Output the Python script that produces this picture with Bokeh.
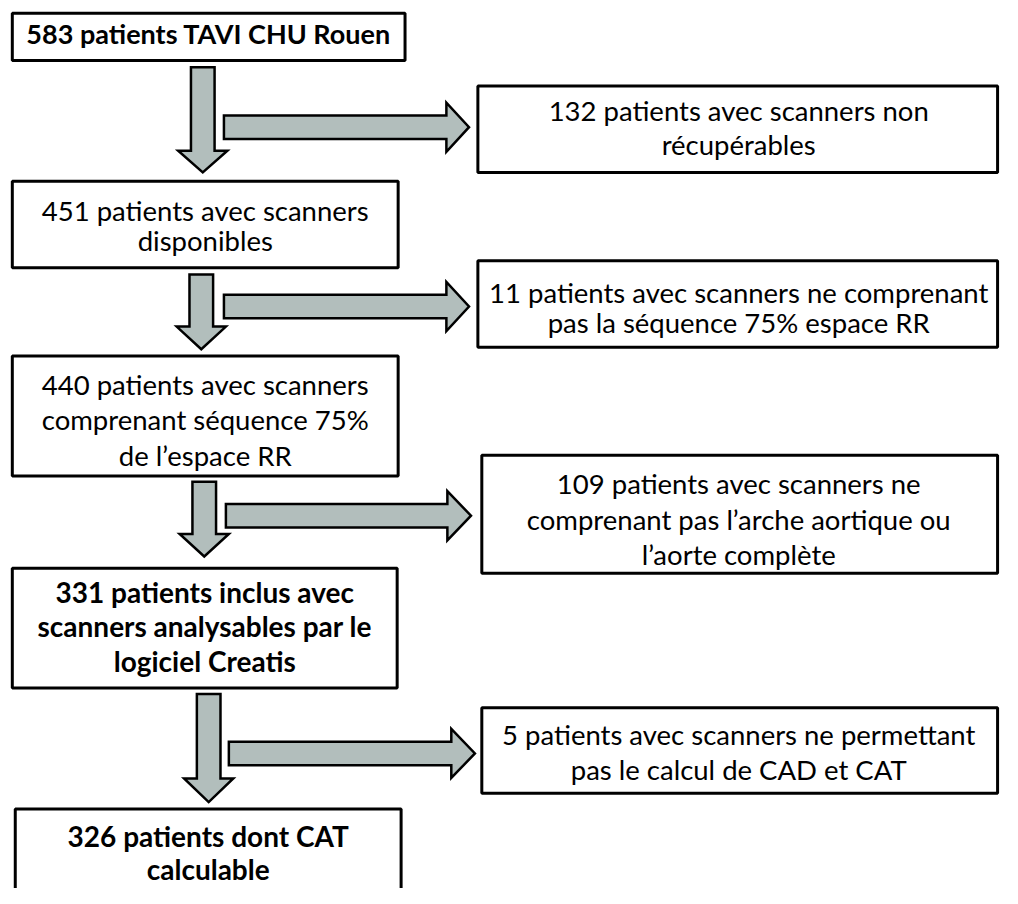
from bokeh.plotting import figure
from bokeh.models import Range1d
from bokeh.core.properties import value
from bokeh.embed import file_html
from bokeh.resources import INLINE

# ---------------- data ----------------
main_counts = [583, 451, 440, 331, 326]
main_texts = [
    ["{} patients TAVI CHU Rouen"],
    ["{} patients avec scanners", "disponibles"],
    ["{} patients avec scanners", "comprenant séquence 75%", "de l’espace RR"],
    ["{} patients inclus avec", "scanners analysables par le", "logiciel Creatis"],
    ["{} patients dont CAT", "calculable"],
]
main_bold = [True, False, False, True, True]

excl_counts = [132, 11, 109, 5]
excl_texts = [
    ["{} patients avec scanners non", "récupérables"],
    ["{} patients avec scanners ne comprenant", "pas la séquence 75% espace RR"],
    ["{} patients avec scanners ne", "comprenant pas l’arche aortique ou", "l’aorte complète"],
    ["{} patients avec scanners ne permettant", "pas le calcul de CAD et CAT"],
]

# ---------------- layout (reference pixel coordinates) ----------------
main_boxes = [(12, 411, 13, 61), (12, 404, 184, 272), (12, 404, 362, 484),
              (12, 403, 578, 700), (15, 407, 823, 940)]
main_first = [43, 223, 400, 611, 860]     # baselines of first line
main_gap = [0, 30, 36, 35, 33]
main_size = ["27px", "27.5px", "27.5px", "28px", "28px"]

side_boxes = [(485, 1013, 87, 175), (485, 1013, 265, 353),
              (489, 1013, 463, 583), (489, 1013, 720, 807)]
side_first = [121, 306, 501, 756]
side_gap = [35, 31, 36, 36]
side_cx = 750

down_arrows = [  # cx, top, head start, tip
    (205.5, 68, 153, 175), (204, 279, 332, 355), (207, 490, 543, 566), (211.5, 706, 792, 816)]
right_arrows = [  # x0, cy, head start, tip
    (227, 129, 453, 476), (227, 311.5, 453, 476), (229, 524.5, 454, 478), (232, 766.5, 458, 482)]
SHAFT = 24
HEAD = 50
MID_SHIFT = 9   # baseline -> middle of text

FONT = "Lato"
ARROW_FILL = "#b2bebc"

p = figure(width=1002, height=888, x_range=Range1d(0, 1018), y_range=Range1d(904, 0),
           output_backend="svg", toolbar_location=None, min_border=0)
p.axis.visible = False
p.grid.visible = False
p.outline_line_color = None
p.background_fill_color = "white"
p.border_fill_color = "white"

# arrows
xs, ys = [], []
for cx, top, hs, tip in down_arrows:
    xs.append([cx - SHAFT / 2, cx + SHAFT / 2, cx + SHAFT / 2, cx + HEAD / 2, cx,
               cx - HEAD / 2, cx - SHAFT / 2])
    ys.append([top, top, hs, hs, tip, hs, hs])
for x0, cy, hs, tip in right_arrows:
    xs.append([x0, hs, hs, tip, hs, hs, x0])
    ys.append([cy - SHAFT / 2, cy - SHAFT / 2, cy - HEAD / 2, cy, cy + HEAD / 2,
               cy + SHAFT / 2, cy + SHAFT / 2])
p.patches(xs, ys, fill_color=ARROW_FILL, line_color="black", line_width=2.5,
          line_join="miter")

# boxes
for boxes in (main_boxes, side_boxes):
    p.quad(left=[b[0] for b in boxes], right=[b[1] for b in boxes],
           top=[b[2] for b in boxes], bottom=[b[3] for b in boxes],
           fill_color="white", line_color="black", line_width=3)

# texts
for i, lines in enumerate(main_texts):
    b = main_boxes[i]
    cx = (b[0] + b[1]) / 2
    for j, ln in enumerate(lines):
        txt = ln.format(main_counts[i]) if j == 0 else ln
        p.text(x=[cx], y=[main_first[i] + j * main_gap[i] - MID_SHIFT], text=[txt],
               text_font=value(FONT), text_font_size=main_size[i],
               text_font_style="bold" if main_bold[i] else "normal",
               text_align="center", text_baseline="middle", text_color="black")

for i, lines in enumerate(excl_texts):
    for j, ln in enumerate(lines):
        txt = ln.format(excl_counts[i]) if j == 0 else ln
        p.text(x=[side_cx], y=[side_first[i] + j * side_gap[i] - MID_SHIFT], text=[txt],
               text_font=value(FONT), text_font_size="27.5px",
               text_align="center", text_baseline="middle", text_color="black")

open("out.html", "w").write(file_html(p, INLINE))
